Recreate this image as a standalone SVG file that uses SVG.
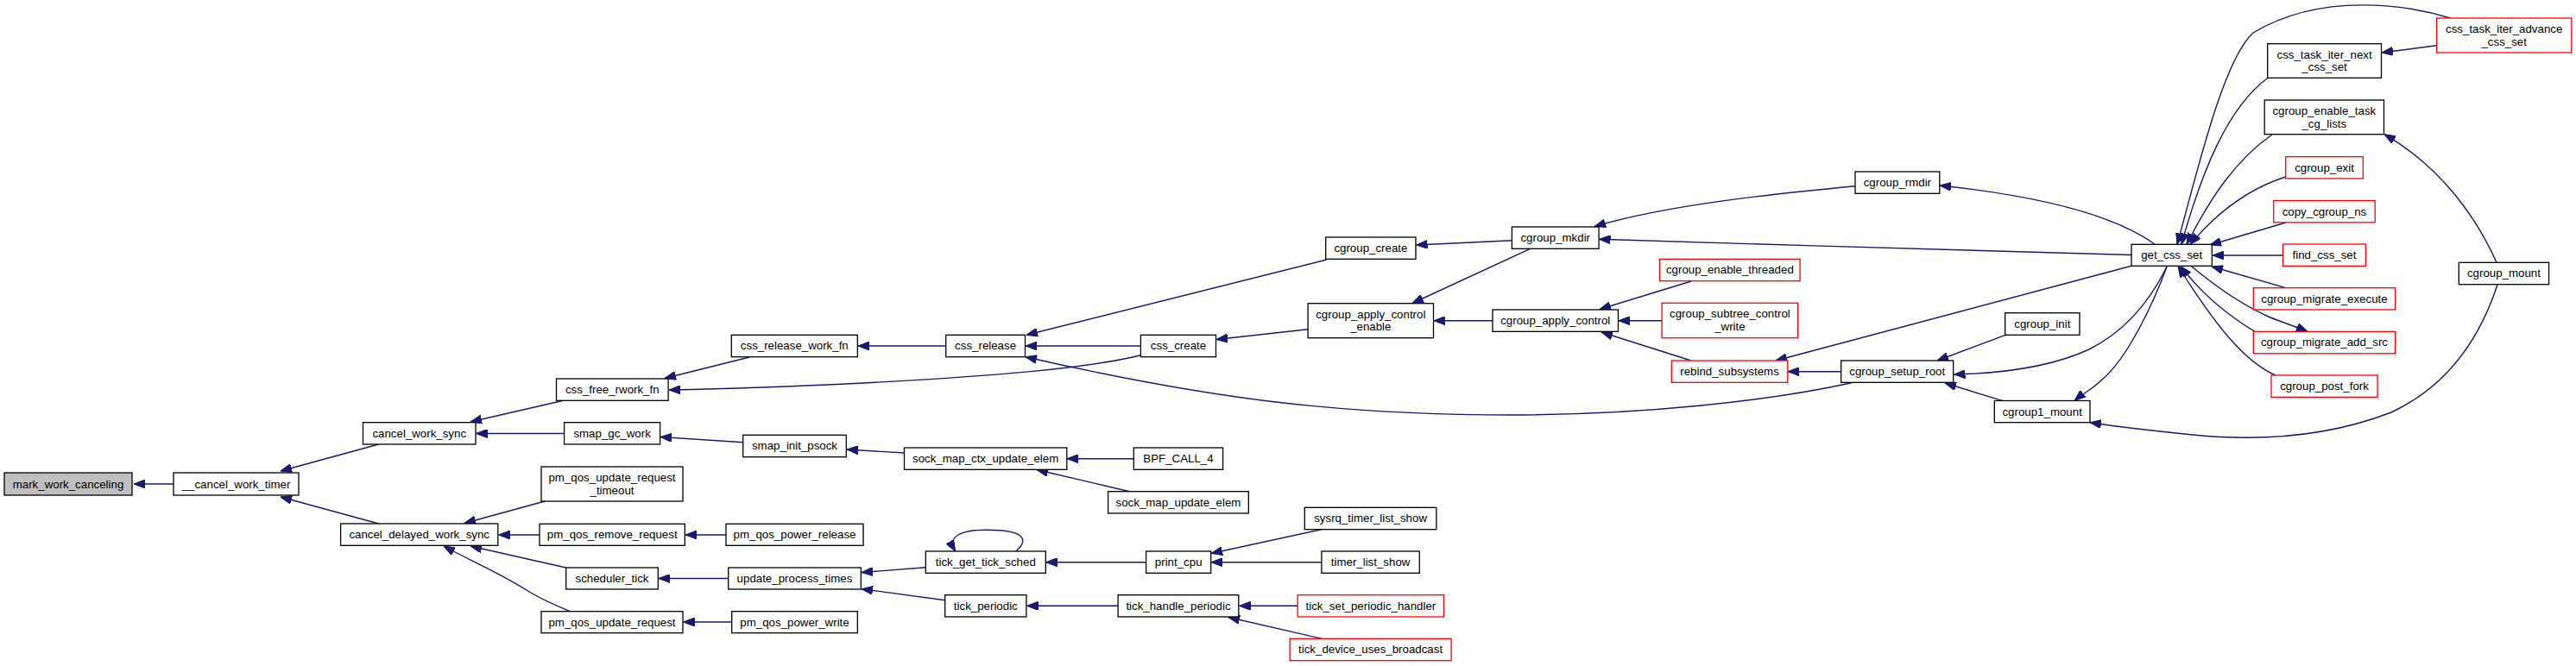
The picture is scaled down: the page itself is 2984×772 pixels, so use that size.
<svg xmlns="http://www.w3.org/2000/svg" width="2984" height="772" viewBox="0 0 2984 772">
<style>
.n rect{fill:#fff;stroke:#000;stroke-width:1.3}
.n.r rect{stroke:#ff0000}
.n.g rect{fill:#bfbfbf}
.n text{font-family:"Liberation Sans",Arial,sans-serif;font-size:13.3px;text-anchor:middle;fill:#000}
.e path{fill:none;stroke:#191970;stroke-width:1.4;marker-end:url(#a)}
</style>
<defs>
<marker id="a" viewBox="0 0 13 10" refX="13" refY="5" markerWidth="13" markerHeight="10" markerUnits="userSpaceOnUse" orient="auto">
<path d="M0,0 L13,5 L0,10 z" fill="#191970" stroke="#191970" stroke-width="1"/>
</marker>
</defs>
<rect width="2984" height="772" fill="#fff"/>
<g id="edges" class="e">
<path d="M201,561 L155,561"/>
<path d="M438.6,515 L325,546"/>
<path d="M438.6,607 L325,576"/>
<path d="M652.6,464.3 L545,489"/>
<path d="M653.6,502.5 L551.5,502.5"/>
<path d="M631,581 L538,606.5"/>
<path d="M625,620 L577.5,620"/>
<path d="M655.5,658 L545,633"/>
<path d="M660,708.5 C640,700 625,694 610,684 C575,662 545,650 514,633"/>
<path d="M868,414 L770,438.5"/>
<path d="M860.7,512.7 L765,506.5"/>
<path d="M841,620 L794,620"/>
<path d="M843.7,670.5 L763,670.5"/>
<path d="M847.7,721 L791.5,721"/>
<path d="M1095.7,401 L994,401"/>
<path d="M1321.4,411.7 C1260,427 1150,436 1000,444 C900,449 830,451 775,452"/>
<path d="M1047.7,525 L981,521"/>
<path d="M1072.3,657.7 L998,663.5"/>
<path d="M1094.7,695.7 L998,682.7"/>
<path d="M1321.4,401 L1188,401"/>
<path d="M1536.7,301 L1189,388.3"/>
<path d="M1313.3,531.7 L1236,531.7"/>
<path d="M1308.5,569.7 L1201,544.5"/>
<path d="M1327.6,651.7 L1211.5,651.7"/>
<path d="M1176.7,639 C1192,626 1188,614.3 1143,614.3 C1112,614.3 1097,622 1106.7,639"/>
<path d="M1295,702.3 L1189.5,702.3"/>
<path d="M1515,381.7 L1409,393.5"/>
<path d="M1531,613.7 L1403,641.5"/>
<path d="M1531,651.7 L1403,651.7"/>
<path d="M1503,702.3 L1435.5,702.3"/>
<path d="M1531,740.3 L1423,715.5"/>
<path d="M1751.4,278.7 L1640.5,284"/>
<path d="M1772.5,288.3 L1636,351.5"/>
<path d="M1729,371.7 L1661,371.7"/>
<path d="M2149,215.7 C2050,225 1930,238 1847,262.5"/>
<path d="M2496,283 C2450,250 2370,228 2247,215"/>
<path d="M2469,295.5 C2300,290 2050,284 1852.5,277.3"/>
<path d="M2469,308.3 L2057,418"/>
<path d="M1959,418 L1855,385"/>
<path d="M1959,326 L1853,358.5"/>
<path d="M1925,371.7 L1875,371.7"/>
<path d="M2132.7,430.7 L2071,430.7"/>
<path d="M2147,443.3 C2050,465 1900,481 1750,481 C1550,481 1400,462 1188,413.7"/>
<path d="M2323,388.3 L2244,418"/>
<path d="M2320,464.7 L2253,444"/>
<path d="M2510,309.3 C2490,350 2460,385 2420,405 C2370,428 2310,433 2263.5,434"/>
<path d="M2510,309.3 C2495,350 2465,415 2435,440 C2425,450 2412,457 2403,464.5"/>
<path d="M2893,330 C2870,400 2830,450 2770,478 C2700,505 2620,512 2540,504 C2490,499 2450,494 2421,489.7"/>
<path d="M2892,304.3 C2870,255 2830,195 2762,155.7"/>
<path d="M2822.6,52.7 L2759,61"/>
<path d="M2838.7,21 C2790,6 2690,-10 2610,38 C2575,70 2545,200 2522,283.3"/>
<path d="M2627,90.3 C2580,125 2550,200 2527,283.3"/>
<path d="M2632,156 C2590,185 2560,230 2533,283.3"/>
<path d="M2647.7,205 C2600,220 2565,250 2537,283.3"/>
<path d="M2647.7,258 L2560,284"/>
<path d="M2644.3,296 L2563,296"/>
<path d="M2647.7,333.7 L2562,309"/>
<path d="M2538,308.3 C2570,335 2600,355 2630,368 C2645,374 2660,379 2673,384.3"/>
<path d="M2612,384.3 C2580,365 2550,340 2526,308.5"/>
<path d="M2636,435 C2600,420 2565,375 2523,308.5"/>
</g>
<g id="mark_work_canceling" class="n g"><rect x="5" y="548" width="148" height="26"/><text x="79" y="565.5">mark_work_canceling</text></g>
<g id="__cancel_work_timer" class="n"><rect x="201" y="548" width="145" height="26"/><text x="273.5" y="565.5">__cancel_work_timer</text></g>
<g id="cancel_work_sync" class="n"><rect x="420.5" y="489.7" width="130.5" height="25.3"/><text x="485.75" y="506.7">cancel_work_sync</text></g>
<g id="cancel_delayed_work_sync" class="n"><rect x="394.6" y="607" width="182.2" height="25.3"/><text x="485.7" y="624">cancel_delayed_work_sync</text></g>
<g id="css_free_rwork_fn" class="n"><rect x="644.5" y="439" width="129.6" height="25.3"/><text x="709.3" y="456">css_free_rwork_fn</text></g>
<g id="smap_gc_work" class="n"><rect x="653.6" y="489.7" width="111" height="25.3"/><text x="709.1" y="506.7">smap_gc_work</text></g>
<g id="pm_qos_update_request_timeout" class="n"><rect x="627" y="541" width="164" height="40"/><text x="709" y="558">pm_qos_update_request</text><text x="709" y="572.5">_timeout</text></g>
<g id="pm_qos_remove_request" class="n"><rect x="625" y="607.3" width="168.3" height="25"/><text x="709.2" y="624.3">pm_qos_remove_request</text></g>
<g id="scheduler_tick" class="n"><rect x="655.7" y="658" width="106.6" height="25"/><text x="709" y="675">scheduler_tick</text></g>
<g id="pm_qos_update_request" class="n"><rect x="627" y="708.7" width="164" height="25"/><text x="709" y="725.7">pm_qos_update_request</text></g>
<g id="css_release_work_fn" class="n"><rect x="847.3" y="388.3" width="146" height="25.4"/><text x="920.3" y="405.3">css_release_work_fn</text></g>
<g id="smap_init_psock" class="n"><rect x="860.7" y="504.3" width="119.6" height="25.4"/><text x="920.5" y="521.3">smap_init_psock</text></g>
<g id="pm_qos_power_release" class="n"><rect x="841" y="607.3" width="159" height="25"/><text x="920.5" y="624.3">pm_qos_power_release</text></g>
<g id="update_process_times" class="n"><rect x="843.7" y="658" width="153.6" height="25"/><text x="920.5" y="675">update_process_times</text></g>
<g id="pm_qos_power_write" class="n"><rect x="847.7" y="708.7" width="145.6" height="25"/><text x="920.5" y="725.7">pm_qos_power_write</text></g>
<g id="css_release" class="n"><rect x="1095.7" y="388.3" width="91.8" height="25.4"/><text x="1141.6" y="405.3">css_release</text></g>
<g id="sock_map_ctx_update_elem" class="n"><rect x="1047.5" y="519" width="188.3" height="25.3"/><text x="1141.65" y="536">sock_map_ctx_update_elem</text></g>
<g id="tick_get_tick_sched" class="n"><rect x="1072.3" y="639" width="139" height="25.3"/><text x="1141.8" y="656">tick_get_tick_sched</text></g>
<g id="tick_periodic" class="n"><rect x="1094.7" y="689.7" width="94.2" height="25.3"/><text x="1141.8" y="706.7">tick_periodic</text></g>
<g id="css_create" class="n"><rect x="1321.4" y="388.3" width="87.1" height="25.4"/><text x="1365" y="405.3">css_create</text></g>
<g id="BPF_CALL_4" class="n"><rect x="1313.3" y="519" width="103.3" height="25.3"/><text x="1365" y="536">BPF_CALL_4</text></g>
<g id="sock_map_update_elem" class="n"><rect x="1283.6" y="569.7" width="162.7" height="25.3"/><text x="1365" y="586.7">sock_map_update_elem</text></g>
<g id="print_cpu" class="n"><rect x="1327.6" y="639" width="75.1" height="25.3"/><text x="1365.2" y="656">print_cpu</text></g>
<g id="tick_handle_periodic" class="n"><rect x="1295.1" y="689.7" width="139.7" height="25.3"/><text x="1365" y="706.7">tick_handle_periodic</text></g>
<g id="cgroup_create" class="n"><rect x="1535.7" y="275" width="104.3" height="25.3"/><text x="1587.9" y="292">cgroup_create</text></g>
<g id="cgroup_apply_control_enable" class="n"><rect x="1515.1" y="351.7" width="145.4" height="40"/><text x="1587.8" y="368.7">cgroup_apply_control</text><text x="1587.8" y="383.2">_enable</text></g>
<g id="sysrq_timer_list_show" class="n"><rect x="1511.3" y="588.3" width="152.6" height="25.4"/><text x="1587.6" y="605.3">sysrq_timer_list_show</text></g>
<g id="timer_list_show" class="n"><rect x="1530.9" y="639" width="113.4" height="25.3"/><text x="1587.6" y="656">timer_list_show</text></g>
<g id="tick_set_periodic_handler" class="n r"><rect x="1503.2" y="689.7" width="169.3" height="25.3"/><text x="1587.9" y="706.7">tick_set_periodic_handler</text></g>
<g id="tick_device_uses_broadcast" class="n r"><rect x="1494.1" y="740.3" width="187" height="25.4"/><text x="1587.6" y="757.3">tick_device_uses_broadcast</text></g>
<g id="cgroup_mkdir" class="n"><rect x="1751.4" y="263" width="100.7" height="25.3"/><text x="1801.75" y="280">cgroup_mkdir</text></g>
<g id="cgroup_apply_control" class="n"><rect x="1729" y="359" width="145.5" height="25.3"/><text x="1801.75" y="376">cgroup_apply_control</text></g>
<g id="cgroup_rmdir" class="n"><rect x="2149" y="199" width="97.8" height="25.3"/><text x="2197.9" y="216">cgroup_rmdir</text></g>
<g id="cgroup_enable_threaded" class="n r"><rect x="1922.6" y="300.3" width="162.5" height="25.4"/><text x="2003.85" y="317.3">cgroup_enable_threaded</text></g>
<g id="cgroup_subtree_control_write" class="n r"><rect x="1925.1" y="351.3" width="157.6" height="40.4"/><text x="2003.9" y="368.3">cgroup_subtree_control</text><text x="2003.9" y="382.8">_write</text></g>
<g id="rebind_subsystems" class="n r"><rect x="1936.3" y="418" width="134.5" height="25.3"/><text x="2003.55" y="435">rebind_subsystems</text></g>
<g id="cgroup_setup_root" class="n"><rect x="2132.7" y="418" width="130" height="25.3"/><text x="2197.7" y="435">cgroup_setup_root</text></g>
<g id="cgroup_init" class="n"><rect x="2322.7" y="362.7" width="86.3" height="25.6"/><text x="2365.85" y="379.7">cgroup_init</text></g>
<g id="cgroup1_mount" class="n"><rect x="2310.3" y="464.5" width="110.7" height="25.2"/><text x="2365.65" y="481.5">cgroup1_mount</text></g>
<g id="get_css_set" class="n"><rect x="2469" y="283.3" width="93.3" height="25"/><text x="2515.65" y="300.3">get_css_set</text></g>
<g id="css_task_iter_next_css_set" class="n"><rect x="2626.7" y="50.7" width="131.8" height="39.6"/><text x="2692.6" y="67.5">css_task_iter_next</text><text x="2692.6" y="82">_css_set</text></g>
<g id="cgroup_enable_task_cg_lists" class="n"><rect x="2623.2" y="116" width="138.3" height="39.7"/><text x="2692.35" y="133">cgroup_enable_task</text><text x="2692.35" y="147.5">_cg_lists</text></g>
<g id="cgroup_exit" class="n r"><rect x="2647.7" y="181.7" width="89.6" height="25.3"/><text x="2692.5" y="198.7">cgroup_exit</text></g>
<g id="copy_cgroup_ns" class="n r"><rect x="2633.7" y="232.5" width="117.5" height="25.3"/><text x="2692.45" y="249.5">copy_cgroup_ns</text></g>
<g id="find_css_set" class="n r"><rect x="2644.5" y="283" width="96" height="25.3"/><text x="2692.5" y="300">find_css_set</text></g>
<g id="cgroup_migrate_execute" class="n r"><rect x="2610.3" y="333.7" width="164.3" height="25.3"/><text x="2692.45" y="350.7">cgroup_migrate_execute</text></g>
<g id="cgroup_migrate_add_src" class="n r"><rect x="2610.3" y="384.3" width="164.3" height="25.5"/><text x="2692.45" y="401.3">cgroup_migrate_add_src</text></g>
<g id="cgroup_post_fork" class="n r"><rect x="2631" y="435" width="123" height="25.3"/><text x="2692.5" y="452">cgroup_post_fork</text></g>
<g id="css_task_iter_advance_css_set" class="n r"><rect x="2822.6" y="21" width="156.2" height="40"/><text x="2900.7" y="38">css_task_iter_advance</text><text x="2900.7" y="52.5">_css_set</text></g>
<g id="cgroup_mount" class="n"><rect x="2848.3" y="304.3" width="104.3" height="25.4"/><text x="2900.45" y="321.3">cgroup_mount</text></g>
</svg>
